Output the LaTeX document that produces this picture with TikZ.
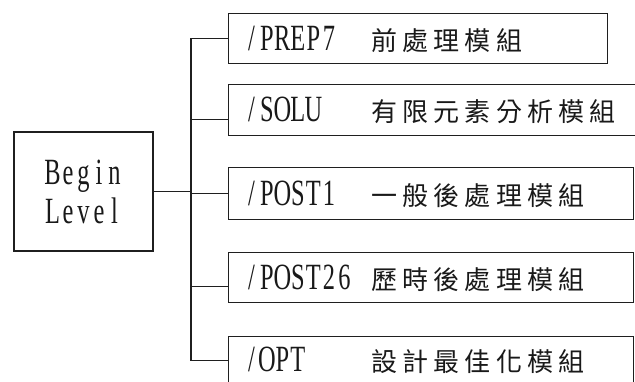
\documentclass[tikz,border=0pt]{standalone}
\usepackage{fontspec}
\newfontfamily\latinf[FakeStretch=0.66]{Liberation Serif}
\newfontfamily\cjkf{Noto Sans CJK TC}
\usetikzlibrary{calc}

\newcommand\mono[1]{\monoloop#1\relax}
\def\monoloop#1{\ifx\relax#1\else\makebox[15.5pt]{#1}\expandafter\monoloop\fi}
\newcommand\cjrow[1]{\cjloop#1\relax}
\def\cjloop#1{\ifx\relax#1\else\makebox[31.2pt]{#1}\expandafter\cjloop\fi}
\newcommand\boxtext[3]{\makebox[#1][l]{\hspace{15pt}\makebox[125pt][l]{\latinf\fontsize{37}{39}\selectfont\mono{#2}}{\cjkf\fontsize{26}{30}\selectfont\cjrow{#3}}}}

\tikzset{
  mod/.style={draw=black!88, line width=1.3pt, anchor=north west, inner sep=0pt,
              text height=23pt, text depth=0pt, text=black!90},
  conn/.style={draw=black!88, line width=1.3pt},
}

\begin{document}
\begin{tikzpicture}[x=1pt,y=-1pt]
\useasboundingbox (0,0) rectangle (635,381);
\clip (0,0) rectangle (635,381);

\node[draw=black!88, line width=1.3pt, minimum width=139pt, minimum height=119pt, inner sep=0pt,
      align=center, text=black!90, font=\latinf\fontsize{37}{39}\selectfont]
      (beg) at (83.5,191.5) {\mono{Begin}\\\mono{Level}};

\node[mod, minimum height=50pt] (b1) at (228,13)  {\boxtext{379pt}{/PREP7}{前處理模組}};
\node[mod, minimum height=51pt] (b2) at (228,84)  {\boxtext{430pt}{/SOLU}{有限元素分析模組}};
\node[mod, minimum height=52pt] (b3) at (228,167) {\boxtext{405pt}{/POST1}{一般後處理模組}};
\node[mod, minimum height=50pt] (b4) at (228,252) {\boxtext{405pt}{/POST26}{歷時後處理模組}};
\node[mod, minimum height=47pt] (b5) at (228,336) {\boxtext{405pt}{/OPT}{設計最佳化模組}};

\coordinate (j) at (191,191.5);
\coordinate (p2) at ([yshift=-9.5pt]b2.west);
\coordinate (p4) at ([yshift=-9pt]b4.west);

\draw[conn] (beg.east) -- (j);
\draw[conn] (b1.west) -| (j) |- (b5.west);
\draw[conn] (j |- p2) -- (p2);
\draw[conn] (j |- b3.west) -- (b3.west);
\draw[conn] (j |- p4) -- (p4);
\end{tikzpicture}
\end{document}
